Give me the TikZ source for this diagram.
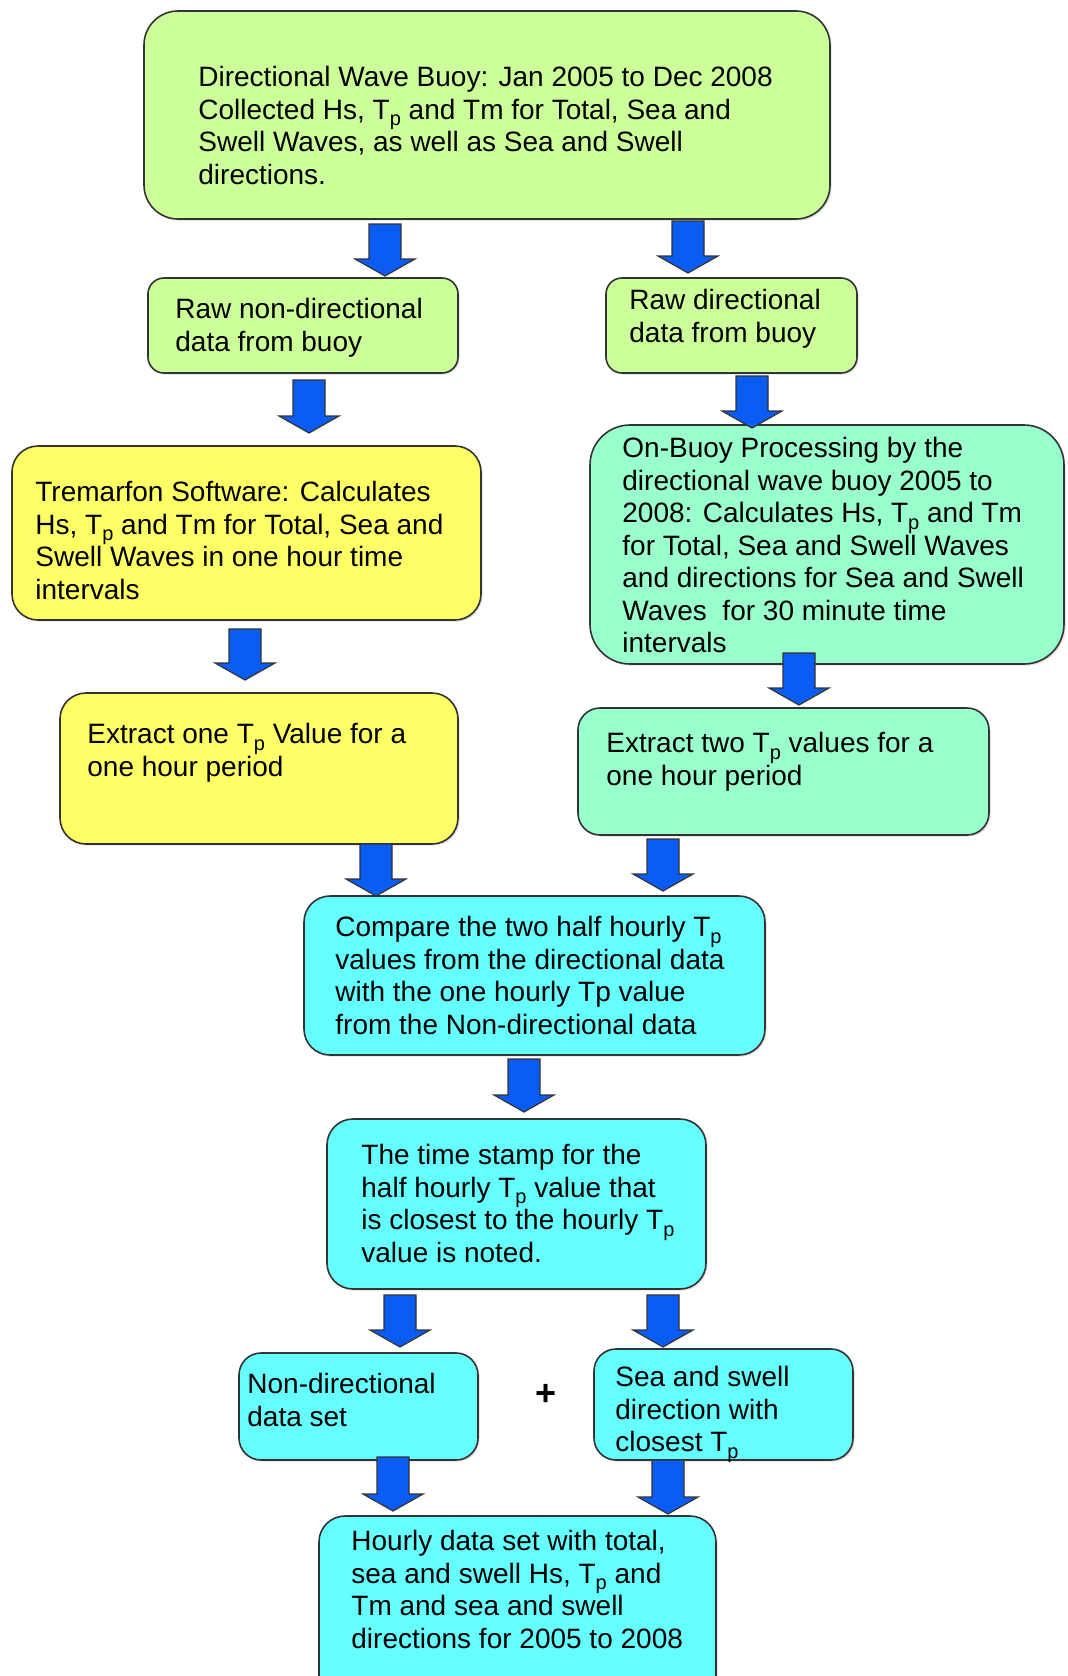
\documentclass[tikz,border=0pt]{standalone}
\usepackage{fontspec}
\setmainfont{Liberation Sans}
\usetikzlibrary{calc,fit,shadows}
\definecolor{lgreen}{HTML}{CCFF99}
\definecolor{myyellow}{HTML}{FFFF66}
\definecolor{mint}{HTML}{99FFCC}
\definecolor{mycyan}{HTML}{66FFFF}
\definecolor{arrowblue}{HTML}{0A5CF5}
\definecolor{edge}{HTML}{333333}
\newcommand\Tp{T\raisebox{-0.45ex}{\fontsize{10}{10}\selectfont p}}
\begin{document}
\begin{tikzpicture}[x=0.5pt,y=-0.5pt,
  box/.style={draw=edge, line width=0.8pt, inner sep=0pt,
    drop shadow={shadow xshift=0.8pt, shadow yshift=-0.8pt, opacity=0.25}},
  txt/.style={anchor=north west, inner sep=0pt, align=left,
    font=\fontsize{14}{16.25}\selectfont},
  blockarrow/.style={draw=edge, line width=0.6pt, fill=arrowblue,
    to path={let \p1=(\tikztostart), \p2=(\tikztotarget) in
      (\x1-8pt,\y1) -- (\x1+8pt,\y1) -- (\x1+8pt,\y2+8.5pt) -- (\x1+15pt,\y2+8.5pt)
      -- (\x1,\y2) -- (\x1-15pt,\y2+8.5pt) -- (\x1-8pt,\y2+8.5pt) -- cycle}}]
\useasboundingbox[fill=white] (0,0) rectangle (1067,1676);

% boxes
\node[box, fill=lgreen, rounded corners=17pt, fit={(144,11) (830,219)}] (b1) {};
\node[box, fill=lgreen, rounded corners=8pt, fit={(148,278) (458,373)}] (b2) {};
\node[box, fill=lgreen, rounded corners=8pt, fit={(606,278) (857,373)}] (b3) {};
\node[box, fill=myyellow, rounded corners=13pt, fit={(12,446) (481,620)}] (b4) {};
\node[box, fill=mint, rounded corners=20pt, fit={(590,425) (1064,664)}] (b5) {};
\node[box, fill=myyellow, rounded corners=13pt, fit={(60,693) (458,844)}] (b6) {};
\node[box, fill=mint, rounded corners=11pt, fit={(578,708) (989,835)}] (b7) {};
\node[box, fill=mycyan, rounded corners=13pt, fit={(304,896) (765,1055)}] (b8) {};
\node[box, fill=mycyan, rounded corners=13pt, fit={(327,1119) (706,1289)}] (b9) {};
\node[box, fill=mycyan, rounded corners=11pt, fit={(239,1353) (478,1460)}] (b10) {};
\node[box, fill=mycyan, rounded corners=11pt, fit={(594,1349) (853,1460)}] (b11) {};
\node[box, fill=mycyan, rounded corners=13pt, fit={(319,1516) (716,1710)}] (b12) {};

% texts
\node[txt] (t1) at (198,66) {Directional Wave Buoy: Jan 2005 to Dec 2008\\Collected Hs, \Tp{} and Tm for Total, Sea and\\Swell Waves, as well as Sea and Swell\\directions.};
\node[txt] (t2) at (175,298) {Raw non-directional\\data from buoy};
\node[txt] (t3) at (629,289) {Raw directional\\data from buoy};
\node[txt] (t4) at (35,481) {Tremarfon Software: Calculates\\Hs, \Tp{} and Tm for Total, Sea and\\Swell Waves in one hour time\\intervals};
\node[txt] (t5) at (622,437) {On-Buoy Processing by the\\directional wave buoy 2005 to\\2008: Calculates Hs, \Tp{} and Tm\\for Total, Sea and Swell Waves\\and directions for Sea and Swell\\Waves\ \ for 30 minute time\\intervals};
\node[txt] (t6) at (87,723) {Extract one \Tp{} Value for a\\one hour period};
\node[txt] (t7) at (606,732) {Extract two \Tp{} values for a\\one hour period};
\node[txt] (t8) at (335,916) {Compare the two half hourly \Tp\\values from the directional data\\with the one hourly Tp value\\from the Non-directional data};
\node[txt] (t9) at (361,1144) {The time stamp for the\\half hourly \Tp{} value that\\is closest to the hourly \Tp\\value is noted.};
\node[txt] (t10) at (247,1373) {Non-directional\\data set};
\node[txt] (t11) at (615,1366) {Sea and swell\\direction with\\closest \Tp};
\node[txt] (t12) at (351,1530) {Hourly data set with total,\\sea and swell Hs, \Tp{} and\\Tm and sea and swell\\directions for 2005 to 2008};
\node[font=\fontsize{18}{18}\selectfont\bfseries, inner sep=0pt] (plus) at (546,1395) {+};

% arrow end points
\coordinate (a1s) at (385,224);  \coordinate (a1e) at (385,276);
\coordinate (a2s) at (688,221);  \coordinate (a2e) at (688,273);
\coordinate (a3s) at (309,380);  \coordinate (a3e) at (309,433);
\coordinate (a4s) at (752,376);  \coordinate (a4e) at (752,428);
\coordinate (a5s) at (245,629);  \coordinate (a5e) at (245,680);
\coordinate (a6s) at (799,653);  \coordinate (a6e) at (799,705);
\coordinate (a7s) at (376,844);  \coordinate (a7e) at (376,896);
\coordinate (a8s) at (663,839);  \coordinate (a8e) at (663,891);
\coordinate (a9s) at (524,1059); \coordinate (a9e) at (524,1112);
\coordinate (a10s) at (400,1295); \coordinate (a10e) at (400,1347);
\coordinate (a11s) at (663,1295); \coordinate (a11e) at (663,1347);
\coordinate (a12s) at (393,1457); \coordinate (a12e) at (393,1511);
\coordinate (a13s) at (668,1460); \coordinate (a13e) at (668,1514);

\foreach \i in {1,...,13}{
  \draw[blockarrow] (a\i s) to (a\i e);
}
\end{tikzpicture}
\end{document}
